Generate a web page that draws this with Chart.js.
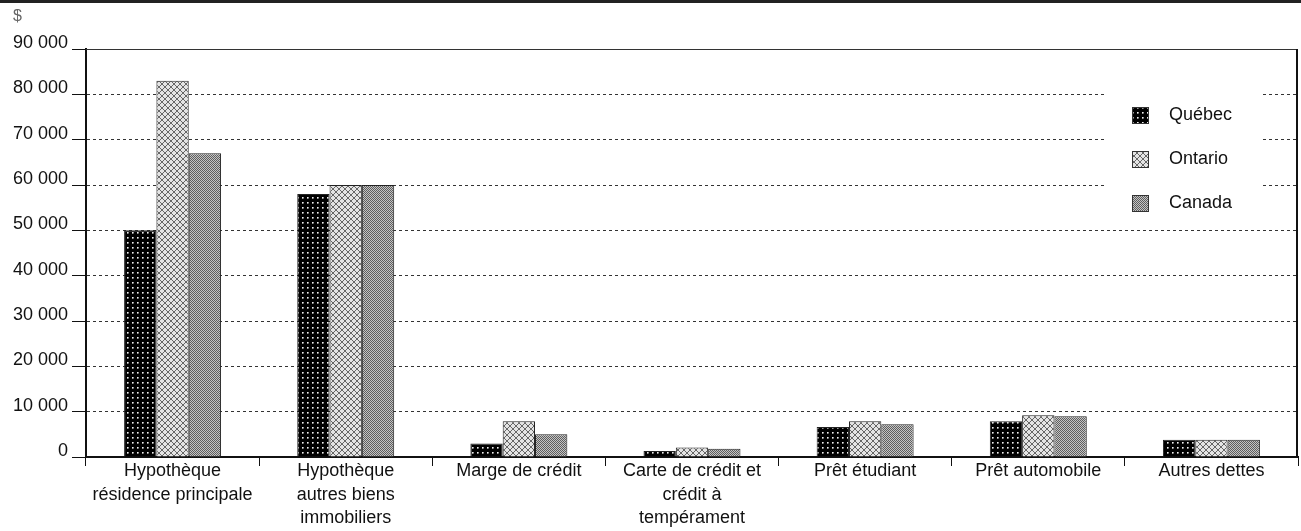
<!DOCTYPE html>
<html lang="fr">
<head>
<meta charset="utf-8">
<title>Dettes moyennes</title>
<script src="https://cdn.jsdelivr.net/npm/chart.js@4.4.1/dist/chart.umd.min.js"></script>
<style>
  html, body { margin: 0; padding: 0; background: #fff; }
  canvas { display: block; }
</style>
</head>
<body>
<canvas id="debtChart" width="1301" height="531"></canvas>
<script>
const categories = [
  ['Hypothèque', 'résidence principale'],
  ['Hypothèque', 'autres biens', 'immobiliers'],
  'Marge de crédit',
  ['Carte de crédit et', 'crédit à', 'tempérament'],
  'Prêt étudiant',
  'Prêt automobile',
  'Autres dettes'
];
const seriesNames = ['Québec', 'Ontario', 'Canada'];
const quebec  = [50000, 58000, 3000, 1300, 6600, 7900, 3800];
const ontario = [83000, 60000, 7900, 2100, 7900, 9200, 3800];
const canada  = [67000, 60000, 5000, 1800, 7200, 9000, 3800];
const yTicks = [0, 10000, 20000, 30000, 40000, 50000, 60000, 70000, 80000, 90000];
const unitLabel = '$';

const FONT = 'Arial, "Liberation Sans", sans-serif';

// little tiled fills to mimic the print hatches
function makePattern(size, paint) {
  const c = document.createElement('canvas');
  c.width = c.height = size;
  paint(c.getContext('2d'));
  return document.createElement('canvas').getContext('2d').createPattern(c, 'repeat');
}

const qcFill = makePattern(5, g => {
  g.fillStyle = '#000';
  g.fillRect(0, 0, 5, 5);
  g.fillStyle = '#eee';
  g.fillRect(2, 2, 1, 1);
  g.fillStyle = '#9a9a9a';
  g.fillRect(3, 2, 1, 1);
  g.fillRect(2, 3, 1, 1);
  g.fillStyle = '#555';
  g.fillRect(3, 3, 1, 1);
});

const onFill = makePattern(6, g => {
  g.fillStyle = '#e4e4e4';
  g.fillRect(0, 0, 6, 6);
  g.strokeStyle = '#666';
  g.lineWidth = 1;
  g.beginPath();
  g.moveTo(0, 0); g.lineTo(6, 6);
  g.moveTo(6, 0); g.lineTo(0, 6);
  g.stroke();
});

const caFill = makePattern(2, g => {
  g.fillStyle = '#c4c4c4';
  g.fillRect(0, 0, 2, 2);
  g.fillStyle = '#5e5e5e';
  g.fillRect(0, 0, 1, 1);
  g.fillRect(1, 1, 1, 1);
});

const fills = [qcFill, onFill, caFill];

function fmt(v) {
  return String(v).replace(/\B(?=(\d{3})+(?!\d))/g, ' ');
}

// top rule, "$" unit, right frame edge
const framePlugin = {
  id: 'frame',
  beforeDraw(chart) {
    const ctx = chart.ctx;
    ctx.save();
    ctx.fillStyle = '#222';
    ctx.fillRect(0, 0, chart.width, 3);
    ctx.fillStyle = '#666';
    ctx.font = '16px ' + FONT;
    ctx.textBaseline = 'middle';
    ctx.textAlign = 'left';
    ctx.fillText(unitLabel, 13, 17);
    ctx.restore();
  },
  afterDraw(chart) {
    const a = chart.chartArea;
    const ctx = chart.ctx;
    ctx.save();
    ctx.strokeStyle = '#333';
    ctx.lineWidth = 1;
    ctx.beginPath();
    ctx.moveTo(a.left, a.top + 0.5);
    ctx.lineTo(a.right, a.top + 0.5);
    ctx.stroke();
    ctx.strokeStyle = '#111';
    ctx.lineWidth = 2;
    ctx.beginPath();
    ctx.moveTo(a.right - 1, a.top);
    ctx.lineTo(a.right - 1, a.bottom);
    ctx.stroke();
    ctx.restore();
  }
};

// legend sits inside the plot on a white patch
const boxLegend = {
  id: 'boxLegend',
  afterDraw(chart) {
    const ctx = chart.ctx;
    ctx.save();
    ctx.fillStyle = '#fff';
    ctx.fillRect(1104, 62, 158, 160);
    ctx.font = '18px ' + FONT;
    ctx.textBaseline = 'middle';
    ctx.textAlign = 'left';
    chart.data.datasets.forEach((ds, i) => {
      const cy = 115.5 + i * 44;
      ctx.fillStyle = ds.backgroundColor;
      ctx.fillRect(1132, cy - 8.5, 17, 17);
      ctx.strokeStyle = '#333';
      ctx.lineWidth = 1;
      ctx.strokeRect(1132.5, cy - 8, 16, 16);
      ctx.fillStyle = '#111';
      ctx.fillText(ds.label, 1169, cy);
    });
    ctx.restore();
  }
};

new Chart(document.getElementById('debtChart'), {
  type: 'bar',
  data: {
    labels: categories,
    datasets: [quebec, ontario, canada].map((vals, i) => ({
      label: seriesNames[i],
      data: vals,
      backgroundColor: fills[i],
      borderColor: '#222',
      borderWidth: 1,
      barPercentage: 1,
      categoryPercentage: 0.56
    }))
  },
  options: {
    responsive: false,
    animation: false,
    devicePixelRatio: 1,
    layout: { padding: { top: 49, right: 3, left: 0, bottom: 0 } },
    plugins: {
      legend: { display: false },
      tooltip: { enabled: false }
    },
    scales: {
      x: {
        offset: true,
        grid: {
          display: true,
          offset: true,
          drawOnChartArea: false,
          drawTicks: true,
          tickLength: 9,
          tickColor: '#111',
          tickWidth: 1
        },
        border: { display: true, color: '#111', width: 2 },
        ticks: {
          color: '#111',
          font: { family: FONT, size: 18, lineHeight: 1.28 },
          padding: -6,
          maxRotation: 0,
          autoSkip: false
        },
        afterFit(s) { s.height = 74; }
      },
      y: {
        min: 0,
        max: 90000,
        afterBuildTicks(s) { s.ticks = yTicks.map(v => ({ value: v })); },
        grid: {
          color: '#333',
          lineWidth: 1,
          drawTicks: true,
          tickLength: 14,
          tickColor: '#111',
          tickWidth: 1
        },
        border: { display: true, color: '#111', width: 2, dash: [3, 3] },
        ticks: {
          color: '#111',
          font: { family: FONT, size: 18 },
          padding: 4,
          labelOffset: -6,
          callback: v => fmt(v)
        },
        afterFit(s) { s.width = 86; }
      }
    }
  },
  plugins: [framePlugin, boxLegend]
});
</script>
</body>
</html>
